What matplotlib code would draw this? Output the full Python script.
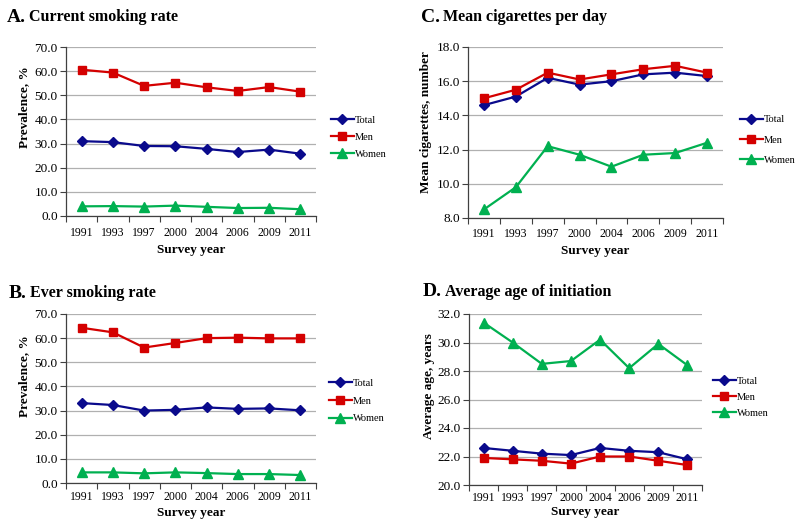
import matplotlib
matplotlib.use("Agg")
import matplotlib.pyplot as plt
from matplotlib.ticker import FixedLocator, FormatStrFormatter

plt.rcParams['font.family'] = ['Liberation Serif', 'DejaVu Serif']

years = ['1991', '1993', '1997', '2000', '2004', '2006', '2009', '2011']
series_names = ['Total', 'Men', 'Women']

a_total = [31.0, 30.6, 29.0, 28.9, 27.8, 26.5, 27.5, 25.8]
a_men = [60.6, 59.4, 53.9, 55.2, 53.3, 51.8, 53.4, 51.5]
a_women = [4.0, 4.1, 3.9, 4.3, 3.8, 3.3, 3.4, 2.8]

b_total = [33.1, 32.3, 30.0, 30.3, 31.3, 30.7, 30.9, 30.1]
b_men = [64.3, 62.4, 56.1, 58.0, 60.0, 60.2, 59.9, 59.9]
b_women = [4.4, 4.4, 4.0, 4.4, 4.1, 3.7, 3.7, 3.3]

c_total = [14.6, 15.1, 16.2, 15.8, 16.0, 16.4, 16.5, 16.3]
c_men = [15.0, 15.5, 16.5, 16.1, 16.4, 16.7, 16.9, 16.5]
c_women = [8.5, 9.8, 12.2, 11.7, 11.0, 11.7, 11.8, 12.4]

d_total = [22.6, 22.4, 22.2, 22.1, 22.6, 22.4, 22.3, 21.8]
d_men = [21.9, 21.8, 21.7, 21.5, 22.0, 22.0, 21.7, 21.4]
d_women = [31.4, 30.0, 28.5, 28.7, 30.2, 28.2, 29.9, 28.4]

colors = ['#0A0A8C', '#D40000', '#00B050']
markers = ['D', 's', '^']
msizes = [5, 5.5, 6.5]

W, H = 800, 527
fig = plt.figure(figsize=(8, 5.27), dpi=100)


def px_axes(x0, y0, x1, y1):
    return fig.add_axes([x0 / W, 1 - y1 / H, (x1 - x0) / W, (y1 - y0) / H])


panels = [
    dict(box=(66, 47, 316, 216), data=(a_total, a_men, a_women), ylim=(0, 70), step=10,
         ylabel='Prevalence, %', letter='A.', title='Current smoking rate', tpos=(7, 15),
         leg=(331, 137), lsp=0.75, yl=(24, 107), xly=250, xpad=8),
    dict(box=(468, 47, 723, 218), data=(c_total, c_men, c_women), ylim=(8, 18), step=2,
         ylabel='Mean cigarettes, number', letter='C.', title='Mean cigarettes per day', tpos=(421, 15),
         leg=(740, 140), lsp=1.05, yl=(426, 122), xly=251, xpad=7),
    dict(box=(66, 314, 316, 483), data=(b_total, b_men, b_women), ylim=(0, 70), step=10,
         ylabel='Prevalence, %', letter='B.', title='Ever smoking rate', tpos=(9, 291),
         leg=(329, 401), lsp=0.8, yl=(24, 376), xly=513, xpad=6),
    dict(box=(469, 314, 702, 485), data=(d_total, d_men, d_women), ylim=(20, 32), step=2,
         ylabel='Average age, years', letter='D.', title='Average age of initiation', tpos=(423, 290),
         leg=(713, 397), lsp=0.65, yl=(429, 386), xly=512, xpad=5),
]

x = list(range(len(years)))

for p in panels:
    ax = px_axes(*p['box'])
    handles = []
    for vals, name, c, m, ms in zip(p['data'], series_names, colors, markers, msizes):
        h, = ax.plot(x, vals, color=c, marker=m, markersize=ms, linewidth=1.6,
                     label=name, zorder=3)
        handles.append(h)
    lo, hi = p['ylim']
    ax.set_ylim(lo, hi)
    ax.set_xlim(-0.5, len(years) - 0.5)
    ticks = [lo + i * p['step'] for i in range(int(round((hi - lo) / p['step'])) + 1)]
    ax.yaxis.set_major_locator(FixedLocator(ticks))
    ax.yaxis.set_major_formatter(FormatStrFormatter('%.1f'))
    ax.set_xticks(x)
    ax.set_xticklabels(years)
    ax.set_xticks([i - 0.5 for i in range(len(years) + 1)], minor=True)
    ax.tick_params(axis='x', which='major', length=0, pad=p['xpad'], labelsize=8.5)
    ax.tick_params(axis='x', which='minor', length=4, width=0.8, direction='out', color='#404040')
    ax.tick_params(axis='y', which='major', length=4, width=0.8, direction='out', pad=2,
                   labelsize=9.5, color='#404040')
    ax.grid(axis='y', color='#B0B0B0', linewidth=0.9, zorder=0)
    ax.set_axisbelow(True)
    for s in ['top', 'right']:
        ax.spines[s].set_visible(False)
    for s in ['left', 'bottom']:
        ax.spines[s].set_color('#404040')
        ax.spines[s].set_linewidth(0.9)
    ax.set_ylabel(p['ylabel'], fontsize=9.5, fontweight='bold')
    ax.set_xlabel('Survey year', fontsize=9.5, fontweight='bold')
    x0, y0, x1, y1 = p['box']
    ylx, yly = p['yl']
    ax.yaxis.set_label_coords((ylx - x0) / (x1 - x0), (y1 - yly) / (y1 - y0))
    ax.xaxis.set_label_coords(0.5, (y1 - p['xly']) / (y1 - y0))
    ax.xaxis.label.set_verticalalignment('center')
    ax.yaxis.label.set_verticalalignment('center')
    lx, ly = p['leg']
    ax.legend(handles=handles, loc='center left', bbox_to_anchor=(lx / W, 1 - ly / H),
              bbox_transform=fig.transFigure, frameon=False, fontsize=7.5,
              handlelength=2.2, handletextpad=0.1, labelspacing=p['lsp'], borderpad=0,
              borderaxespad=0)
    tx, ty = p['tpos']
    t1 = fig.text(tx / W, 1 - ty / H, p['letter'], fontsize=14, fontweight='bold',
                  ha='left', va='center_baseline')
    p['t1'] = t1

fig.canvas.draw()
renderer = fig.canvas.get_renderer()
for p in panels:
    ext = p['t1'].get_window_extent(renderer)
    x_next = ext.x1 / W + 3 / W
    tx, ty = p['tpos']
    fig.text(x_next, 1 - ty / H, p['title'], fontsize=11.5, fontweight='bold',
             ha='left', va='center_baseline')

fig.savefig('out.png', dpi=100)
